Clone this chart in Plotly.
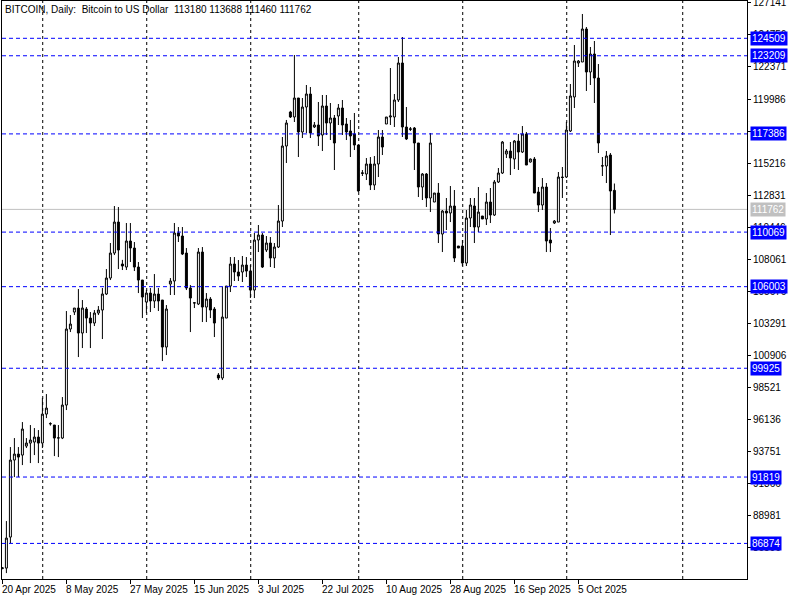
import pandas as pd
import plotly.graph_objects as go

# ---------------- data ----------------
opens = [85000, 85036, 87346, 93084, 93530, 93456, 94127, 94350, 94425, 94797,
         94350, 96510, 95780, 95693, 94723, 94723, 97183, 102846, 104113, 104411,
         102548, 104336, 103665, 103293, 104038, 104262, 105455, 106646, 108508, 110818,
         107690, 107466, 109404, 108882, 107466, 106497, 104859, 105528, 104933, 105455,
         105007, 101505, 106200, 106423, 110000, 109776, 108508, 105902, 104784, 104709,
         108583, 104485, 105081, 104336, 99418, 99195, 103665, 106050, 107690, 107094,
         107094, 107615, 107168, 105752, 109478, 109851, 108733, 109255, 108137, 108956,
         110894, 116483, 119017, 118644, 120060, 117527, 119390, 120358, 117899, 118048,
         117303, 119464, 118197, 118570, 118719, 119315, 118123, 117601, 117377, 116557,
         114440, 114397, 115142, 113578, 115142, 117154, 118123, 118644, 118644, 119911,
         122668, 117899, 117720, 117824, 116707, 113428, 114397, 112609, 112310, 112981,
         109925, 111639, 111490, 112012, 109031, 109031, 107764, 111118, 112012, 110447,
         111268, 111044, 112310, 111342, 113801, 114471, 115887, 116110, 115514, 116856,
         116036, 117377, 115291, 115514, 113055, 112087, 113428, 109478, 110745, 110818,
         114173, 114173, 117601, 120135, 122668, 122743, 125202, 121998, 123339, 121551,
         114993, 114993, 115812, 113180]
highs = [85100, 88538, 94053, 94723, 94053, 95916, 94723, 95693, 95468, 95319,
         97704, 98002, 95900, 95693, 95693, 97779, 104187, 103889, 104411, 105827,
         105007, 104485, 104113, 104262, 104560, 105902, 107317, 109255, 112012, 111937,
         108000, 110745, 110745, 109329, 107839, 106497, 105752, 105902, 106944, 105902,
         105007, 104634, 106646, 110745, 110447, 110447, 108882, 106125, 104859, 108882,
         108956, 105528, 105230, 104485, 99567, 105976, 106050, 108211, 108211, 107988,
         108286, 108211, 107615, 110000, 110596, 110000, 109776, 109702, 109255, 112087,
         117154, 118423, 119100, 123264, 120060, 120060, 121029, 120880, 118272, 119762,
         120284, 120284, 119688, 118793, 119613, 119911, 118570, 118423, 118942, 116557,
         114695, 115589, 115663, 115738, 117676, 117676, 118644, 122296, 120358, 123115,
         124606, 119390, 117899, 117899, 116707, 114471, 114471, 117452, 112981, 113726,
         111714, 112609, 113502, 113204, 109031, 109478, 111714, 112609, 112609, 113428,
         111268, 112981, 113354, 113949, 114844, 116856, 116259, 116781, 116930, 117377,
         117973, 117527, 115550, 115663, 113428, 114098, 113726, 110372, 110968, 114546,
         114918, 118272, 121103, 124010, 122892, 126320, 125351, 123861, 124308, 122594,
         115663, 116110, 115961, 113688]
lows = [84950, 84663, 86899, 91817, 91817, 92711, 93978, 92860, 93456, 92860,
        93978, 96212, 95650, 93381, 93307, 94648, 96810, 102622, 103889, 100759,
        101430, 102548, 101430, 103070, 103889, 102101, 105380, 106497, 108360, 107317,
        107243, 107243, 107839, 107168, 105528, 103665, 104038, 104113, 104411, 104188,
        100461, 100908, 105380, 105380, 109329, 108360, 105752, 102622, 104411, 104634,
        103368, 103368, 103665, 102250, 99046, 99046, 103665, 105603, 106423, 106423,
        106349, 106721, 105156, 105156, 108583, 107392, 108583, 107466, 107392, 108882,
        110447, 115216, 118570, 118272, 115663, 117079, 117452, 117079, 117824, 116483,
        116110, 117303, 116930, 114695, 118048, 117303, 116930, 115663, 116185, 113055,
        114248, 113949, 113204, 113204, 114173, 115812, 118123, 118048, 117899, 119762,
        117154, 116930, 117601, 114695, 112683, 112459, 111937, 111565, 112310, 109255,
        108583, 110224, 110818, 107839, 108882, 107541, 107541, 110447, 109255, 110074,
        111044, 110596, 110745, 111268, 113726, 114397, 115589, 114322, 114769, 114695,
        115961, 115067, 115250, 112981, 111565, 111714, 108583, 108583, 110670, 110818,
        112609, 114098, 117527, 119315, 122370, 122743, 120582, 121029, 119688, 115961,
        114248, 113726, 109851, 111460]
closes = [85050, 87271, 93084, 93530, 93307, 95394, 94350, 94574, 94797, 94350,
          96510, 96957, 95800, 94723, 94740, 97183, 102846, 103218, 104411, 102548,
          104411, 103665, 103293, 104038, 104262, 105455, 106646, 108508, 110818, 108733,
          107541, 109404, 108882, 107466, 106497, 105230, 105528, 104933, 105455, 104933,
          101505, 104336, 106423, 110000, 109776, 108434, 105902, 105156, 104800, 108583,
          104485, 105081, 104262, 103293, 99195, 103740, 106050, 107690, 107094, 106795,
          107615, 107168, 105752, 109478, 109851, 107466, 109255, 108137, 108956, 110894,
          116483, 118197, 118644, 120060, 117527, 119390, 120358, 117452, 118048, 117228,
          119464, 118197, 118570, 116707, 119315, 118048, 117527, 117228, 116557, 113130,
          114480, 115142, 113578, 115142, 117154, 116408, 118644, 118719, 119911, 122668,
          117899, 117005, 117760, 116707, 113428, 114397, 112609, 116707, 112981, 109925,
          111639, 111490, 112012, 108137, 108882, 107764, 111118, 112087, 110447, 111565,
          111044, 112310, 111342, 113801, 114471, 116781, 116110, 115589, 116856, 116036,
          117377, 115067, 115514, 112981, 112087, 113428, 109404, 109255, 110894, 114173,
          114140, 117676, 120209, 122817, 122817, 125202, 121998, 123339, 121551, 116707,
          115010, 115738, 113130, 111762]

first_date = "2025-04-20"
level_prices = [124509, 123209, 117386, 110069, 106003, 99925, 91819, 86874]
bid_price = 111762
price_ticks = [127141, 124756, 122371, 119986, 117601, 115216, 112831, 110446,
               108061, 105676, 103291, 100906, 98521, 96136, 93751, 91366, 88981, 86596]
date_tick_labels = ["20 Apr 2025", "8 May 2025", "27 May 2025", "15 Jun 2025", "3 Jul 2025",
                    "22 Jul 2025", "10 Aug 2025", "28 Aug 2025", "16 Sep 2025", "5 Oct 2025"]
grid_bars = [10, 36, 62, 89, 115, 141, 170]
title_text = "BITCOIN, Daily:\u00a0\u00a0Bitcoin to US Dollar\u00a0\u00a0113180 113688 111460 111762"

# ---------------- build ----------------
n = len(opens)
dates = pd.bdate_range(first_date, periods=n + 40, freq="C", weekmask="Sun Mon Tue Wed Thu Fri")
pos = {d.strftime("%Y-%m-%d"): i for i, d in enumerate(dates)}
x = list(range(n))


def label_to_pos(lbl):
    d = pd.to_datetime(lbl, format="%d %b %Y")
    return pos[d.strftime("%Y-%m-%d")]


tickvals_x = [label_to_pos(l) for l in date_tick_labels]

FONT = "Liberation Sans"

fig = go.Figure()
fig.add_trace(go.Candlestick(
    x=x, open=opens, high=highs, low=lows, close=closes,
    increasing=dict(line=dict(color="black", width=1), fillcolor="white"),
    decreasing=dict(line=dict(color="black", width=1), fillcolor="black"),
    whiskerwidth=0, hoverinfo="skip", showlegend=False,
))

shapes = []
for gx in grid_bars:
    shapes.append(dict(type="line", xref="x", yref="paper", x0=gx + 0.08, x1=gx + 0.08, y0=0, y1=1,
                       line=dict(color="black", width=1, dash="3px,3px"), layer="below"))
shapes.append(dict(type="line", xref="paper", yref="y", x0=0, x1=1, y0=bid_price, y1=bid_price,
                   line=dict(color="#C0C0C0", width=1), layer="below"))
for lp in level_prices:
    shapes.append(dict(type="line", xref="paper", yref="y", x0=0, x1=1, y0=lp, y1=lp,
                       line=dict(color="#0000FF", width=1, dash="4px,3px"), layer="above"))

annotations = [dict(text=title_text, xref="paper", yref="paper", x=0, y=1, xanchor="left",
                    yanchor="top", xshift=1, yshift=-1, showarrow=False,
                    font=dict(family=FONT, size=10, color="black"))]
for tv, tl in zip(tickvals_x, date_tick_labels):
    annotations.append(dict(text=tl, xref="x", yref="paper", x=tv, y=0, xanchor="left",
                            yanchor="top", xshift=-2, yshift=-3, showarrow=False,
                            font=dict(family=FONT, size=10, color="black")))
for lp in level_prices:
    annotations.append(dict(text=str(lp), xref="paper", yref="y", x=1, y=lp, xanchor="left",
                            yanchor="middle", xshift=3, showarrow=False, bgcolor="#0000FF",
                            borderpad=1, font=dict(family=FONT, size=10, color="white")))
annotations.append(dict(text=str(bid_price), xref="paper", yref="y", x=1, y=bid_price, xanchor="left",
                        yanchor="middle", xshift=3, showarrow=False, bgcolor="#C0C0C0",
                        borderpad=1, font=dict(family=FONT, size=10, color="white")))

fig.update_layout(
    width=800, height=600,
    margin=dict(l=2, r=53, t=1, b=21, autoexpand=False),
    paper_bgcolor="white", plot_bgcolor="white",
    shapes=shapes, annotations=annotations,
    font=dict(family=FONT, size=10, color="black"),
    xaxis=dict(range=[-0.1, 186.15], rangeslider=dict(visible=False), showgrid=False, zeroline=False,
               automargin=False,
               tickmode="array", tickvals=tickvals_x, showticklabels=False,
               ticks="outside", ticklen=4, tickcolor="black",
               showline=True, linecolor="black", linewidth=1, mirror=True),
    yaxis=dict(range=[84222, 127288], side="right", showgrid=False, zeroline=False,
               automargin=False, ticklabeloverflow="allow",
               tickmode="array", tickvals=price_ticks, ticktext=[str(v) for v in price_ticks],
               ticks="outside", ticklen=3, tickcolor="black",
               showline=True, linecolor="black", linewidth=1, mirror=True,
               tickfont=dict(family=FONT, size=10, color="black")),
)

fig.write_html("out.html", config={"displayModeBar": False},
               post_script="document.body.style.margin='0';document.body.style.overflow='hidden';")
